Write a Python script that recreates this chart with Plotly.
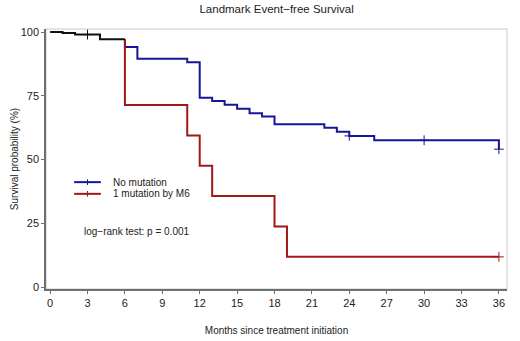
import plotly.graph_objects as go

# ---- data ----
pooled_time = [0, 1, 2, 4, 6]
pooled_surv = [100, 99.6, 99.0, 97.2, 97.2]
pooled_cens_time = [3]
pooled_cens_surv = [99.0]

nomut_time = [6, 6, 7, 11, 12, 13, 14, 15, 16, 17, 18, 22, 23, 24, 26, 36]
nomut_surv = [97.2, 94.1, 89.5, 88.2, 74.3, 73.0, 71.5, 69.9, 68.2, 66.9, 63.9, 62.5, 60.9, 59.3, 57.6, 54.1]
nomut_cens_time = [24, 30, 36]
nomut_cens_surv = [59.3, 57.6, 54.1]

mut_time = [6, 6, 11, 12, 13, 18, 19, 36]
mut_surv = [97.2, 71.4, 59.5, 47.6, 35.7, 23.8, 11.9, 11.9]
mut_cens_time = [36]
mut_cens_surv = [11.9]

group_names = ["No mutation", "1 mutation by M6"]
x_ticks = [0, 3, 6, 9, 12, 15, 18, 21, 24, 27, 30, 33, 36]
y_ticks = [0, 25, 50, 75, 100]

BLUE = "#16169A"
RED = "#A01818"
BLACK = "#111111"
FONT = "Liberation Sans, Arial, sans-serif"

fig = go.Figure()

def add_curve(t, s, ct, cs, color, name):
    fig.add_trace(go.Scatter(x=t, y=s, mode="lines", line=dict(color=color, width=2, shape="hv"),
                             name=name, showlegend=False, hoverinfo="skip"))
    fig.add_trace(go.Scatter(x=ct, y=cs, mode="markers",
                             marker=dict(symbol="cross-thin", size=7, color=color,
                                         line=dict(color=color, width=1)),
                             name=name, showlegend=False, hoverinfo="skip"))

add_curve(nomut_time, nomut_surv, nomut_cens_time, nomut_cens_surv, BLUE, group_names[0])
add_curve(mut_time, mut_surv, mut_cens_time, mut_cens_surv, RED, group_names[1])
add_curve(pooled_time, pooled_surv, pooled_cens_time, pooled_cens_surv, BLACK, "All")

# manual compact legend (paper coordinates)
shapes = [dict(type="rect", xref="paper", yref="paper", x0=0, x1=1, y0=0, y1=1,
               line=dict(color="#c8c8c8", width=1), layer="below")]
annotations = []
leg_y = [0.411, 0.366]
for yy, col, nm in zip(leg_y, [BLUE, RED], group_names):
    shapes.append(dict(type="line", xref="paper", yref="paper", x0=0.061, x1=0.119, y0=yy, y1=yy,
                       line=dict(color=col, width=2)))
    shapes.append(dict(type="line", xref="paper", yref="paper", x0=0.09, x1=0.09, y0=yy - 0.011, y1=yy + 0.011,
                       line=dict(color=col, width=1)))
    annotations.append(dict(xref="paper", yref="paper", x=0.140, y=yy, text=nm, showarrow=False,
                            xanchor="left", yanchor="middle", font=dict(size=10, color="#222", family=FONT)))

annotations.append(dict(xref="paper", yref="paper", x=0.078, y=0.223, text="log\u2212rank test: p = 0.001",
                        showarrow=False, xanchor="left", yanchor="middle",
                        font=dict(size=10, color="#222", family=FONT)))

fig.update_layout(
    width=520, height=341,
    margin=dict(l=46, r=13, t=29, b=52, autoexpand=False),
    paper_bgcolor="white", plot_bgcolor="white",
    font=dict(family=FONT, color="#222", size=11),
    title=dict(text="Landmark Event\u2212free Survival", x=(46 + 507.3) / 2 / 520, xanchor="center",
               xref="container", yref="container",
               y=1 - 8.5 / 341, yanchor="middle", automargin=False, font=dict(size=11.5, color="#222")),
    shapes=shapes, annotations=annotations,
    showlegend=False,
)
fig.update_xaxes(range=[-0.33, 36.65], tickvals=x_ticks, ticktext=[str(v) for v in x_ticks],
                 automargin=False,
                 showgrid=False, zeroline=False, showline=True, linecolor="#707070", linewidth=1.5,
                 ticks="outside", ticklen=3, tickcolor="#707070", tickwidth=1,
                 tickfont=dict(size=11, color="#222"),
                 title=dict(text="Months since treatment initiation", standoff=19,
                            font=dict(size=10, color="#222")))
fig.update_yaxes(range=[-0.7, 101.2], tickvals=y_ticks, ticktext=[str(v) for v in y_ticks],
                 automargin=False,
                 showgrid=False, zeroline=False, showline=True, linecolor="#707070", linewidth=1.5,
                 ticks="outside", ticklen=3, tickcolor="#707070", tickwidth=1,
                 tickfont=dict(size=11, color="#222"),
                 title=dict(text="Survival probability (%)", standoff=0,
                            font=dict(size=10, color="#222")))

fig.write_html("out.html", config={"displayModeBar": False},
               post_script="document.body.style.margin='0';document.body.style.overflow='hidden';")
